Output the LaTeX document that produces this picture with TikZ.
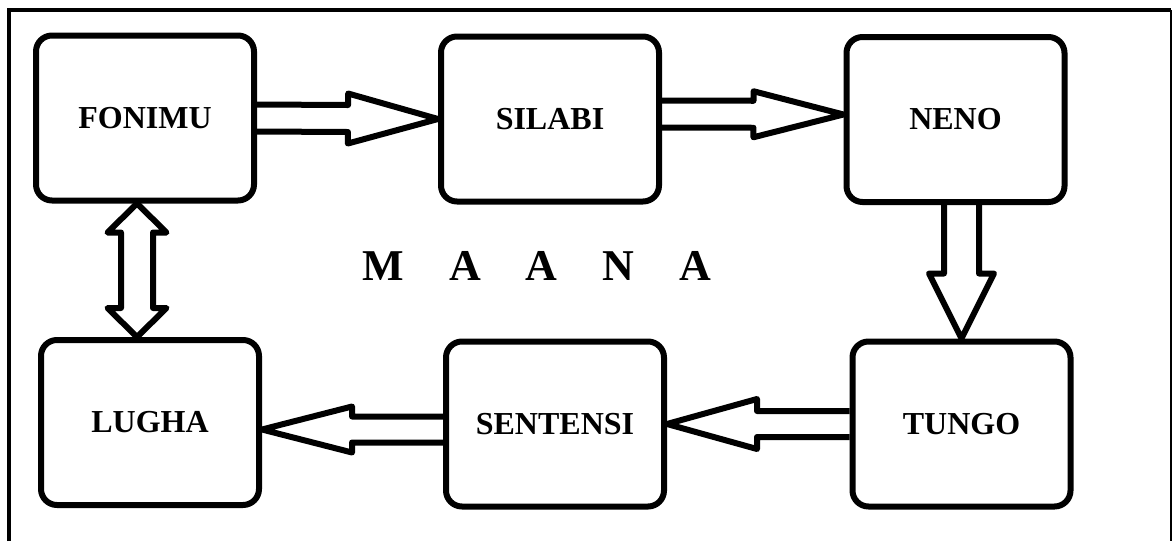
\documentclass[tikz,border=0pt]{standalone}
\usepackage{fontspec}
\setmainfont{Liberation Serif}
\usetikzlibrary{calc}

\tikzset{
  box/.style={draw, line width=3pt, rounded corners=8pt, minimum width=109pt,
    minimum height=82.5pt, inner sep=0pt, font=\bfseries\fontsize{16}{19}\selectfont},
  arrowline/.style={draw, line width=3pt, line join=round}
}

% hollow block arrow: from, to, shaft half width, head half width, head length
\newcommand{\blockarrow}[5]{%
  \coordinate (hb) at ($(#2)!#5!(#1)$);
  \draw[arrowline] ($(#1)!#3!90:(#2)$) -- ($(hb)!#3!90:(#2)$) -- ($(hb)!#4!90:(#2)$) -- (#2)
    -- ($(hb)!#4!-90:(#2)$) -- ($(hb)!#3!-90:(#2)$) -- ($(#1)!#3!-90:(#2)$);
}
% same with a head at both ends
\newcommand{\dblockarrow}[5]{%
  \coordinate (ha) at ($(#1)!#5!(#2)$);
  \coordinate (hb) at ($(#2)!#5!(#1)$);
  \draw[arrowline] (#1) -- ($(ha)!#4!90:(#2)$) -- ($(ha)!#3!90:(#2)$) -- ($(hb)!#3!90:(#2)$)
    -- ($(hb)!#4!90:(#2)$) -- (#2) -- ($(hb)!#4!-90:(#2)$) -- ($(hb)!#3!-90:(#2)$)
    -- ($(ha)!#3!-90:(#2)$) -- ($(ha)!#4!-90:(#2)$) -- cycle;
}

\begin{document}
\begin{tikzpicture}[x=0.5pt, y=-0.5pt]
  \useasboundingbox (0,0) rectangle (1172,541);
  % frame
  \draw[line width=2pt] (9,541) -- (9,10) -- (1171,10);
  \draw[line width=0.75pt] (1171,10) -- (1171,541);

  \node[box] (fonimu) at (145,118) {FONIMU};
  \node[box] (silabi) at (550,119) {SILABI};
  \node[box] (neno) at (955.5,119.5) {NENO};
  \node[box] (lugha) at (150,422.5) {LUGHA};
  \node[box] (sentensi) at (555,424) {SENTENSI};
  \node[box] (tungo) at (961.5,424) {TUNGO};

  \node[font=\bfseries\fontsize{22}{26}\selectfont, anchor=base] (maana) at (537,280)
    {M\hspace{22.5pt}A\hspace{22.5pt}A\hspace{22.5pt}N\hspace{22.5pt}A};

  \coordinate (S1) at ([yshift=2.5pt]silabi.east);
  \coordinate (N1) at ([yshift=2.5pt]neno.west);
  \coordinate (N2) at ([xshift=3pt]neno.south);
  \coordinate (S2) at ([yshift=-2.75pt]sentensi.west);
  \coordinate (L1) at ([yshift=-3.5pt]lugha.east);
  \coordinate (F1) at ([xshift=-4pt]fonimu.south);
  \coordinate (L2) at ([xshift=-6.5pt]lugha.north);

  \blockarrow{fonimu.east}{silabi.west}{6.75pt}{12.5pt}{45pt}
  \blockarrow{S1}{N1}{6.75pt}{11.5pt}{45pt}
  \blockarrow{N2}{tungo.north}{8.75pt}{16.25pt}{32.5pt}
  \blockarrow{tungo.west}{sentensi.east}{6.5pt}{12.5pt}{45pt}
  \blockarrow{S2}{L1}{6.5pt}{11.5pt}{45pt}
  \dblockarrow{F1}{L2}{8pt}{14.75pt}{14.5pt}
\end{tikzpicture}
\end{document}
